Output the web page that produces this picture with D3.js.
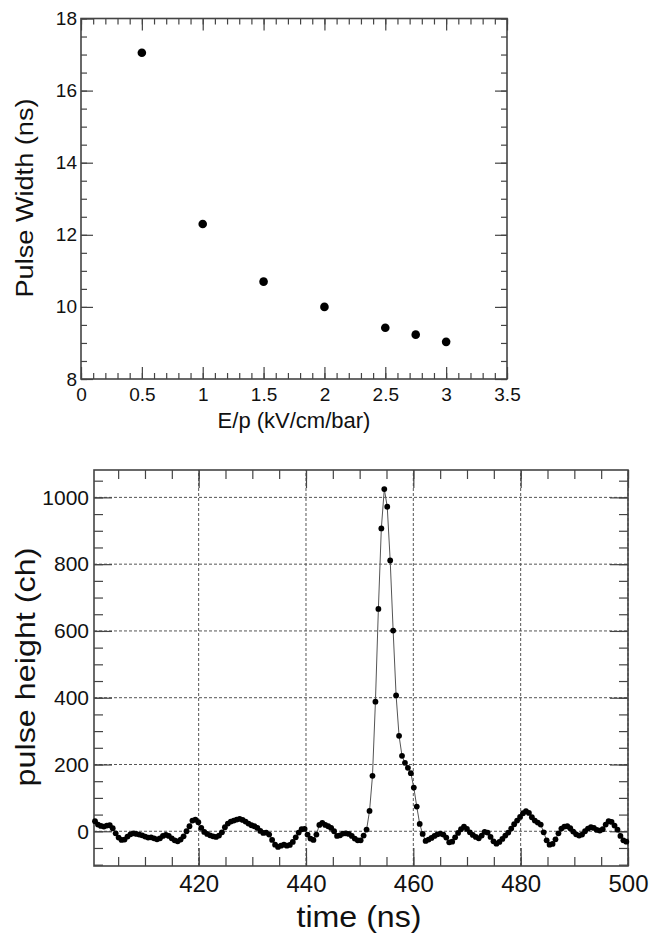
<!DOCTYPE html>
<html>
<head>
<meta charset="utf-8">
<script src="https://d3js.org/d3.v7.min.js"></script>
<style>
  body { margin: 0; background: #fff; }
  svg { display: block; }
</style>
</head>
<body>
<div id="my_dataviz"></div>
<script>
// ---- data: top panel (pulse width vs E/p) ----
var fieldValues = [0.5, 1, 1.5, 2, 2.5, 2.75, 3];
var pulseWidths = [17.05, 12.3, 10.7, 10.0, 9.42, 9.23, 9.03];
var widthXTicks = [0, 0.5, 1, 1.5, 2, 2.5, 3, 3.5];
var widthYTicks = [8, 10, 12, 14, 16, 18];

// ---- data: bottom panel (one digitised pulse) ----
var sampleTimes = [
  400.69, 401.24, 401.79, 402.34, 402.89, 403.44, 403.99, 404.54, 405.09, 405.64,
  406.19, 406.74, 407.29, 407.84, 408.39, 408.94, 409.49, 410.04, 410.59, 411.14,
  411.69, 412.24, 412.79, 413.34, 413.89, 414.44, 414.99, 415.54, 416.09, 416.64,
  417.19, 417.74, 418.29, 418.84, 419.39, 419.94, 420.49, 421.04, 421.59, 422.14,
  422.69, 423.24, 423.79, 424.34, 424.89, 425.44, 425.99, 426.54, 427.09, 427.64,
  428.19, 428.74, 429.29, 429.84, 430.39, 430.94, 431.49, 432.04, 432.59, 433.14,
  433.69, 434.24, 434.79, 435.34, 435.89, 436.44, 436.99, 437.54, 438.09, 438.64,
  439.19, 439.74, 440.29, 440.84, 441.39, 441.94, 442.49, 443.04, 443.59, 444.14,
  444.69, 445.24, 445.79, 446.34, 446.89, 447.44, 447.99, 448.54, 449.09, 449.64,
  450.19, 450.74, 451.29, 451.84, 452.39, 452.94, 453.49, 454.04, 454.59, 455.14,
  455.69, 456.24, 456.79, 457.34, 457.89, 458.44, 458.99, 459.54, 460.09, 460.64,
  461.19, 461.74, 462.29, 462.84, 463.39, 463.94, 464.49, 465.04, 465.59, 466.14,
  466.69, 467.24, 467.79, 468.34, 468.89, 469.44, 469.99, 470.54, 471.09, 471.64,
  472.19, 472.74, 473.29, 473.84, 474.39, 474.94, 475.49, 476.04, 476.59, 477.14,
  477.69, 478.24, 478.79, 479.34, 479.89, 480.44, 480.99, 481.54, 482.09, 482.64,
  483.19, 483.74, 484.29, 484.84, 485.39, 485.94, 486.49, 487.04, 487.59, 488.14,
  488.69, 489.24, 489.79, 490.34, 490.89, 491.44, 491.99, 492.54, 493.09, 493.64,
  494.19, 494.74, 495.29, 495.84, 496.39, 496.94, 497.49, 498.04, 498.59, 499.14,
  499.69
];
var pulseHeights = [
  30, 20, 16, 14, 17, 18, 9, -6, -19, -26,
  -25, -16, -9, -6, -8, -10, -12, -16, -19, -18,
  -21, -24, -21, -14, -11, -14, -21, -27, -30, -25,
  -15, 0, 15, 32, 35, 27, 10, -2, -8, -12,
  -15, -17, -13, -3, 12, 23, 29, 32, 35, 37,
  34, 29, 23, 18, 15, 10, 1, -5, -4, -10,
  -26, -40, -47, -43, -40, -43, -41, -32, -18, -4,
  6, 7, -10, -22, -26, -10, 19, 25, 19, 15,
  10, 0, -14, -12, -7, -6, -8, -14, -22, -27,
  -27, -13, 5, 61, 166, 388, 666, 907, 1025, 972,
  811, 601, 407, 286, 226, 205, 190, 174, 131, 74,
  22, -8, -29, -25, -20, -14, -9, -7, -10, -19,
  -33, -31, -18, -5, 6, 14, 7, -3, -11, -17,
  -21, -13, -2, -4, -17, -30, -37, -32, -23, -13,
  -4, 8, 21, 32, 43, 54, 60, 55, 42, 32,
  26, 20, -3, -27, -40, -38, -24, -6, 8, 14,
  15, 9, -1, -9, -13, -10, 0, 8, 12, 10,
  4, 2, 6, 20, 30, 28, 17, 5, -14, -27,
  -31
];
var timeTicks = [420, 440, 460, 480, 500];
var heightTicks = [0, 200, 400, 600, 800, 1000];

var width = 651;
var height = 938;
var fontFamily = "'Liberation Sans', Arial, sans-serif";
var frameColor = "#444";
var textColor = "#111";

var svg = d3.select("#my_dataviz")
  .append("svg")
  .attr("width", width)
  .attr("height", height)
  .style("font-family", fontFamily);

// style an axis group the ROOT way: ticks inside, no domain line
function styleAxis(g, fontSize) {
  g.select(".domain").remove();
  g.attr("font-family", fontFamily).attr("font-size", fontSize);
  g.selectAll("line").attr("stroke", frameColor).attr("stroke-width", 1.2);
  g.selectAll("text").attr("fill", textColor);
}

// draw ticks on all four sides of a frame, labels on left and bottom
function drawFrameAxes(x, y, opt) {
  var x0 = x.range()[0], x1 = x.range()[1];
  var yb = y.range()[0], yt = y.range()[1];
  var fmt = d3.format("~g");

  // minor ticks, all sides
  svg.append("g").attr("transform", "translate(0," + yb + ")")
    .call(d3.axisBottom(x).tickValues(opt.xMinor).tickSize(-opt.minor).tickSizeOuter(0).tickFormat(""))
    .call(styleAxis, opt.xFont);
  svg.append("g").attr("transform", "translate(0," + yt + ")")
    .call(d3.axisTop(x).tickValues(opt.xMinor).tickSize(-opt.minor).tickSizeOuter(0).tickFormat(""))
    .call(styleAxis, opt.xFont);
  svg.append("g").attr("transform", "translate(" + x0 + ",0)")
    .call(d3.axisLeft(y).tickValues(opt.yMinor).tickSize(-opt.minor).tickSizeOuter(0).tickFormat(""))
    .call(styleAxis, opt.yFont);
  svg.append("g").attr("transform", "translate(" + x1 + ",0)")
    .call(d3.axisRight(y).tickValues(opt.yMinor).tickSize(-opt.minor).tickSizeOuter(0).tickFormat(""))
    .call(styleAxis, opt.yFont);

  // major ticks with labels
  svg.append("g").attr("transform", "translate(0," + yb + ")")
    .call(d3.axisBottom(x).tickValues(opt.xMajor).tickSize(-opt.major).tickSizeOuter(0)
      .tickPadding(opt.xPad).tickFormat(fmt))
    .call(styleAxis, opt.xFont);
  svg.append("g").attr("transform", "translate(0," + yt + ")")
    .call(d3.axisTop(x).tickValues(opt.xMajor).tickSize(-opt.major).tickSizeOuter(0).tickFormat(""))
    .call(styleAxis, opt.xFont);
  svg.append("g").attr("transform", "translate(" + x0 + ",0)")
    .call(d3.axisLeft(y).tickValues(opt.yMajor).tickSize(-opt.major).tickSizeOuter(0)
      .tickPadding(opt.yPad).tickFormat(fmt))
    .call(styleAxis, opt.yFont);
  svg.append("g").attr("transform", "translate(" + x1 + ",0)")
    .call(d3.axisRight(y).tickValues(opt.yMajor).tickSize(-opt.major).tickSizeOuter(0).tickFormat(""))
    .call(styleAxis, opt.yFont);

  // frame
  svg.append("rect")
    .attr("x", x0).attr("y", yt)
    .attr("width", x1 - x0).attr("height", yb - yt)
    .attr("fill", "none")
    .attr("stroke", frameColor)
    .attr("stroke-width", 1.6);
}

// ================= top panel =================
var xTop = d3.scaleLinear().domain([0, 3.5]).range([81, 507]);
var yTop = d3.scaleLinear().domain([8, 18]).range([379, 18.5]);

drawFrameAxes(xTop, yTop, {
  xMajor: widthXTicks, xMinor: xTop.ticks(35),
  yMajor: widthYTicks, yMinor: yTop.ticks(20),
  major: 12, minor: 6, xPad: 9, yPad: 4, xFont: 19, yFont: 19
});

svg.append("g").selectAll("circle")
  .data(fieldValues)
  .enter()
  .append("circle")
  .attr("cx", function(d) { return xTop(d); })
  .attr("cy", function(d, i) { return yTop(pulseWidths[i]); })
  .attr("r", 4.3)
  .attr("fill", "#000");

svg.append("text")
  .attr("x", 294).attr("y", 428)
  .attr("text-anchor", "middle")
  .attr("font-size", 22)
  .attr("fill", textColor)
  .text("E/p (kV/cm/bar)");

svg.append("text")
  .attr("transform", "translate(33,198) rotate(-90)")
  .attr("text-anchor", "middle")
  .attr("font-size", 23)
  .attr("textLength", 199)
  .attr("lengthAdjust", "spacingAndGlyphs")
  .attr("fill", textColor)
  .text("Pulse Width (ns)");

// ================= bottom panel =================
var xBot = d3.scaleLinear().domain([400.5, 500]).range([94, 628]);
var yBot = d3.scaleLinear().domain([-104, 1082]).range([866, 470]);

// dashed grid
var grid = svg.append("g")
  .attr("stroke", "#555")
  .attr("stroke-width", 1)
  .attr("stroke-dasharray", "3,2");
grid.selectAll("line.v")
  .data(timeTicks)
  .enter()
  .append("line")
  .attr("x1", function(d) { return xBot(d); })
  .attr("x2", function(d) { return xBot(d); })
  .attr("y1", yBot.range()[0])
  .attr("y2", yBot.range()[1]);
grid.selectAll("line.h")
  .data(heightTicks)
  .enter()
  .append("line")
  .attr("x1", xBot.range()[0])
  .attr("x2", xBot.range()[1])
  .attr("y1", function(d) { return yBot(d); })
  .attr("y2", function(d) { return yBot(d); });

drawFrameAxes(xBot, yBot, {
  xMajor: timeTicks, xMinor: xBot.ticks(20),
  yMajor: heightTicks, yMinor: yBot.ticks(24),
  major: 18, minor: 9, xPad: 9, yPad: 5, xFont: 24, yFont: 21
});

// connecting line + markers
var pulse = sampleTimes.map(function(t, i) { return { t: t, h: pulseHeights[i] }; });

svg.append("path")
  .datum(pulse)
  .attr("fill", "none")
  .attr("stroke", "#555")
  .attr("stroke-width", 1)
  .attr("d", d3.line()
    .x(function(d) { return xBot(d.t); })
    .y(function(d) { return yBot(d.h); }));

svg.append("g").selectAll("circle")
  .data(pulse)
  .enter()
  .append("circle")
  .attr("cx", function(d) { return xBot(d.t); })
  .attr("cy", function(d) { return yBot(d.h); })
  .attr("r", 2.9)
  .attr("fill", "#000");

svg.append("text")
  .attr("x", 359).attr("y", 927)
  .attr("text-anchor", "middle")
  .attr("font-size", 30)
  .attr("textLength", 125)
  .attr("lengthAdjust", "spacingAndGlyphs")
  .attr("fill", textColor)
  .text("time (ns)");

svg.append("text")
  .attr("transform", "translate(35,667) rotate(-90)")
  .attr("text-anchor", "middle")
  .attr("font-size", 28)
  .attr("textLength", 239)
  .attr("lengthAdjust", "spacingAndGlyphs")
  .attr("fill", textColor)
  .text("pulse height (ch)");
</script>
</body>
</html>
